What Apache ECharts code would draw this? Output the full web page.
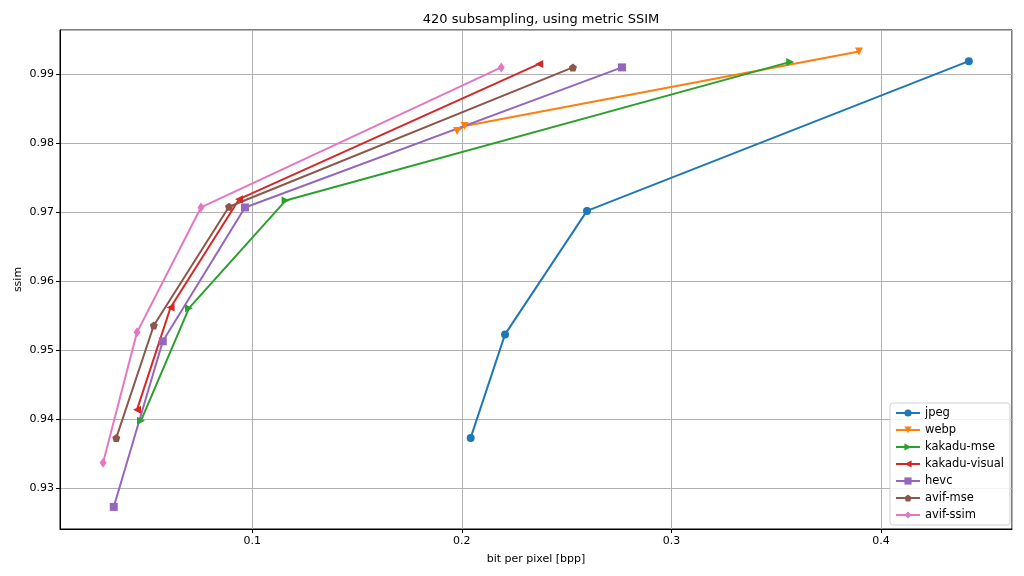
<!DOCTYPE html>
<html>
<head>
<meta charset="utf-8">
<script src="https://cdn.jsdelivr.net/npm/echarts@6/dist/echarts.min.js"></script>
<style>html,body{margin:0;padding:0;background:#fff}#c{width:1024px;height:576px}</style>
</head>
<body>
<div id="c"></div>
<script>
const seriesNames = ['jpeg', 'webp', 'kakadu-mse', 'kakadu-visual', 'hevc', 'avif-mse', 'avif-ssim'];
const jpeg = [[0.2042, 0.9373], [0.2206, 0.9523], [0.2597, 0.9702], [0.4419, 0.9919]];
const webp = [[0.1977, 0.9818], [0.2013, 0.9825], [0.3895, 0.9933]];
const kakaduMse = [[0.0469, 0.9398], [0.0698, 0.9561], [0.1159, 0.9717], [0.3567, 0.9918]];
const kakaduVisual = [[0.0450, 0.9414], [0.0610, 0.9562], [0.0937, 0.9719], [0.2369, 0.9915]];
const hevc = [[0.0339, 0.9273], [0.0573, 0.9513], [0.0965, 0.9707], [0.2764, 0.9910]];
const avifMse = [[0.0351, 0.9373], [0.0530, 0.9536], [0.0889, 0.9708], [0.2530, 0.9910]];
const avifSsim = [[0.0288, 0.9337], [0.0450, 0.9526], [0.0755, 0.9707], [0.2188, 0.9910]];
const xRange = [0.00825, 0.4625];
const yRange = [0.9241, 0.99642];

const colors = ['#1f77b4', '#ff7f0e', '#2ca02c', '#d62728', '#9467bd', '#8c564b', '#e377c2'];
const pent = 'path://M0,-1 L0.951,-0.309 L0.588,0.809 L-0.588,0.809 L-0.951,-0.309 Z';
const markers = [
  {symbol: 'circle', size: 8, rotate: 0},
  {symbol: 'triangle', size: 8, rotate: 180},
  {symbol: 'triangle', size: 8, rotate: -90},
  {symbol: 'triangle', size: 8, rotate: 90},
  {symbol: 'rect', size: 8, rotate: 0},
  {symbol: pent, size: 8, rotate: 0},
  {symbol: 'diamond', size: [7, 10], rotate: 0}
];
const allData = [jpeg, webp, kakaduMse, kakaduVisual, hevc, avifMse, avifSsim];

const font = 'DejaVu Sans';
const chart = echarts.init(document.getElementById('c'), null, {renderer: 'canvas'});
chart.setOption({
  animation: false,
  backgroundColor: '#fff',
  textStyle: {fontFamily: font},
  title: {
    text: '420 subsampling, using metric SSIM',
    left: 536, top: 8, textAlign: 'center',
    textStyle: {fontFamily: font, fontSize: 13, fontWeight: 'normal', color: '#000'}
  },
  grid: {left: 60, right: 12, top: 30, bottom: 47, show: true, borderColor: '#000', borderWidth: 1, containLabel: false},
  legend: {
    orient: 'vertical', left: 890, top: 403,
    data: seriesNames,
    backgroundColor: 'rgba(255,255,255,0.85)', borderColor: '#d0d0d0', borderWidth: 1, borderRadius: 3,
    padding: [4, 6, 4, 5], itemGap: 5, itemWidth: 24, itemHeight: 9,
    textStyle: {fontFamily: font, fontSize: 11.5, color: '#000'}
  },
  xAxis: {
    type: 'value', min: xRange[0], max: xRange[1], splitNumber: 5,
    name: 'bit per pixel [bpp]', nameLocation: 'middle', nameGap: 25, nameMoveOverlap: false,
    nameTextStyle: {fontFamily: font, fontSize: 11, color: '#000'},
    axisLine: {show: true, lineStyle: {color: '#000', width: 1}},
    axisTick: {show: true, length: 4, lineStyle: {color: '#000'}},
    axisLabel: {fontFamily: font, fontSize: 11, color: '#000', margin: 7, showMinLabel: false, showMaxLabel: false},
    splitLine: {show: true, lineStyle: {color: '#b0b0b0', width: 1}}
  },
  yAxis: {
    type: 'value', min: yRange[0], max: yRange[1], splitNumber: 5,
    name: 'ssim', nameLocation: 'middle', nameGap: 36, nameMoveOverlap: false,
    nameTextStyle: {fontFamily: font, fontSize: 11, color: '#000'},
    axisLine: {show: true, lineStyle: {color: '#000', width: 1}},
    axisTick: {show: true, length: 4, lineStyle: {color: '#000'}},
    axisLabel: {fontFamily: font, fontSize: 11, color: '#000', margin: 6, showMinLabel: false, showMaxLabel: false},
    splitLine: {show: true, lineStyle: {color: '#b0b0b0', width: 1}}
  },
  series: seriesNames.map((n, i) => ({
    name: n, type: 'line', data: allData[i],
    color: colors[i],
    symbol: markers[i].symbol, symbolSize: markers[i].size, symbolRotate: markers[i].rotate,
    showAllSymbol: true,
    lineStyle: {width: 2, color: colors[i]},
    itemStyle: {color: colors[i], borderWidth: 0},
    emphasis: {disabled: true}
  }))
});
</script>
</body>
</html>
